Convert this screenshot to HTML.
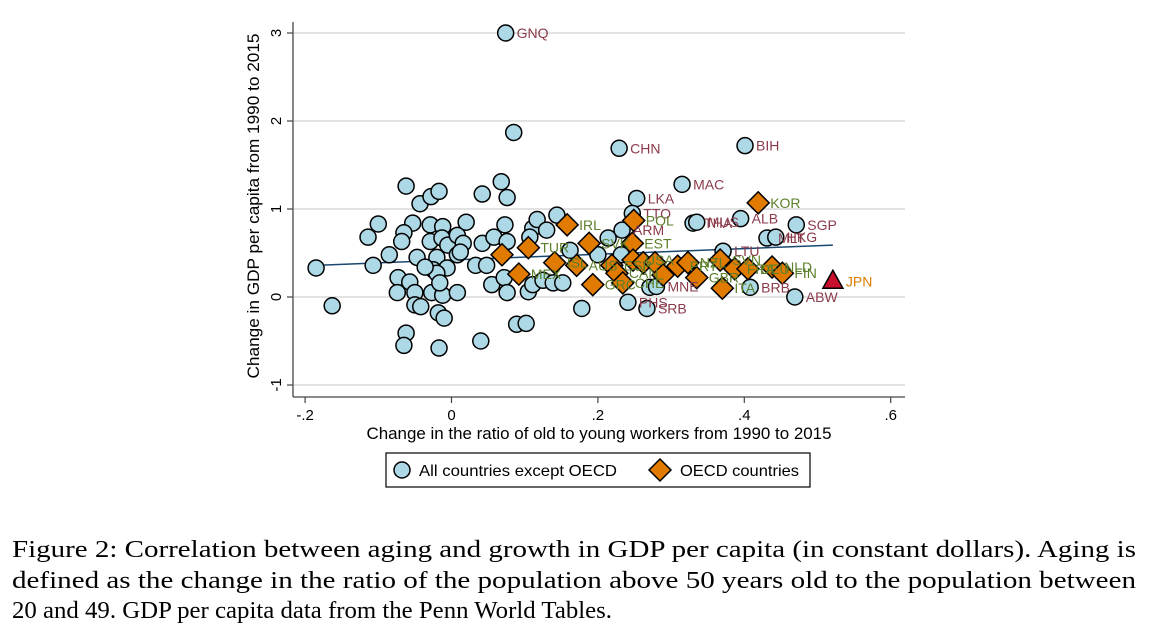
<!DOCTYPE html>
<html><head><meta charset="utf-8"><style>
html,body{margin:0;padding:0;background:#fff;width:1150px;height:632px;overflow:hidden}
svg{display:block}
</style></head><body>
<svg id="fig" width="1150" height="632" viewBox="0 0 1150 632" xmlns="http://www.w3.org/2000/svg" font-family="'Liberation Sans', 'DejaVu Sans', sans-serif">
<g id="grid"></g>
<g id="axes"></g>
<g id="fitline"></g>
<g id="circles"></g>
<g id="diamonds"></g>
<g id="labels"></g>
<text transform="translate(259,206) rotate(-90)" text-anchor="middle" font-size="16.5" textLength="345" lengthAdjust="spacingAndGlyphs">Change in GDP per capita from 1990 to 2015</text>
<text x="599" y="439" text-anchor="middle" font-size="16.5" textLength="465" lengthAdjust="spacingAndGlyphs">Change in the ratio of old to young workers from 1990 to 2015</text>
<g>
<rect x="386" y="453" width="424" height="34" fill="#fff" stroke="#000" stroke-width="1.2"/>
<circle cx="402" cy="470" r="8" fill="#add8e6" stroke="#000" stroke-width="1.5"/>
<text x="419" y="476" font-size="16" textLength="198" lengthAdjust="spacingAndGlyphs">All countries except OECD</text>
<polygon points="660,459 671,470 660,481 649,470" fill="#e07b00" stroke="#000" stroke-width="1.5"/>
<text x="680" y="476" font-size="16" textLength="119" lengthAdjust="spacingAndGlyphs">OECD countries</text>
</g>
<g font-family="'Liberation Serif', 'DejaVu Serif', serif" font-size="24.5">
<text x="12" y="557" textLength="1124" lengthAdjust="spacingAndGlyphs">Figure 2: Correlation between aging and growth in GDP per capita (in constant dollars). Aging is</text>
<text x="12" y="588" textLength="1124" lengthAdjust="spacingAndGlyphs">defined as the change in the ratio of the population above 50 years old to the population between</text>
<text x="12" y="618" textLength="600" lengthAdjust="spacingAndGlyphs">20 and 49. GDP per capita data from the Penn World Tables.</text>
</g>
</svg>
<script>
const xTicks = [-0.2, 0, 0.2, 0.4, 0.6];
const xTickLabels = ["-.2", "0", ".2", ".4", ".6"];
const yTicks = [-1, 0, 1, 2, 3];
const yTickLabels = ["-1", "0", "1", "2", "3"];
const circleX = [-0.185,-0.163,-0.114,-0.100,-0.107,-0.085,-0.062,-0.043,-0.028,-0.017,-0.053,-0.065,-0.068,-0.047,-0.073,-0.074,-0.057,-0.050,-0.050,-0.042,-0.027,-0.012,0.008,-0.018,-0.010,-0.062,-0.065,-0.017,0.040,0.089,0.102,-0.029,-0.012,-0.029,-0.013,-0.005,0.008,0.016,0.020,0.008,0.012,-0.020,-0.025,-0.006,-0.020,-0.036,-0.016,0.042,0.042,0.068,0.076,0.073,0.058,0.076,0.033,0.048,0.055,0.072,0.076,0.105,0.111,0.111,0.117,0.130,0.107,0.144,0.125,0.139,0.074,0.085,0.229,0.401,0.315,0.253,0.247,0.330,0.335,0.395,0.471,0.431,0.443,0.214,0.233,0.371,0.152,0.271,0.408,0.469,0.241,0.267,0.178,0.200,0.162,0.232,0.280];
const circleY = [0.33,-0.10,0.68,0.83,0.36,0.48,1.26,1.06,1.14,1.20,0.84,0.73,0.63,0.45,0.22,0.05,0.17,0.05,-0.09,-0.11,0.05,0.02,0.05,-0.18,-0.24,-0.41,-0.55,-0.58,-0.50,-0.31,-0.30,0.82,0.80,0.63,0.67,0.59,0.70,0.61,0.85,0.48,0.51,0.45,0.31,0.33,0.27,0.34,0.16,0.61,1.17,1.31,1.13,0.82,0.68,0.63,0.36,0.36,0.14,0.22,0.05,0.06,0.14,0.78,0.88,0.76,0.68,0.93,0.19,0.16,3.00,1.87,1.69,1.72,1.28,1.12,0.95,0.84,0.85,0.89,0.82,0.67,0.68,0.67,0.76,0.52,0.16,0.11,0.11,0.00,-0.06,-0.13,-0.13,0.48,0.53,0.48,0.12];
const circleLab = ["","","","","","","","","","","","","","","","","","","","","","","","","","","","","","","","","","","","","","","","","","","","","","","","","","","","","","","","","","","","","","","","","","","","","GNQ","","CHN","BIH","MAC","LKA","TTO","THA","MUS","ALB","SGP","MLT","HKG","","ARM","LTU","","","BRB","ABW","PHS","SRB","","","","","MNE"];
const diaX = [0.419,0.158,0.249,0.247,0.188,0.105,0.069,0.141,0.171,0.219,0.248,0.262,0.278,0.309,0.323,0.367,0.387,0.405,0.438,0.452,0.092,0.226,0.193,0.234,0.289,0.335,0.370];
const diaY = [1.07,0.82,0.87,0.61,0.61,0.56,0.48,0.39,0.36,0.36,0.42,0.39,0.39,0.35,0.39,0.42,0.32,0.32,0.34,0.27,0.26,0.27,0.14,0.16,0.25,0.22,0.10];
const diaLab = ["KOR","IRL","POL","EST","SVK","TUR","","ISL","AUS","ESP","USA","","","PRT","NZL","SVN","FRA","DEU","NLD","FIN","MEX","CAN","GRC","CHE","","GBR","ITA"];
const triX = [0.521];
const triY = [0.19];
const triLab = ["JPN"];
const fitX = [-0.185, 0.521];
const fitY = [0.36, 0.59];

const NS = "http://www.w3.org/2000/svg";
const X0 = 451.5, XS = 732, Y0 = 297, YS = 88;
const sx = v => X0 + v * XS;
const sy = v => Y0 - v * YS;
function mk(tag, attrs, parent, txt) {
  const e = document.createElementNS(NS, tag);
  for (const k in attrs) e.setAttribute(k, attrs[k]);
  if (txt !== undefined) e.textContent = txt;
  parent.appendChild(e);
  return e;
}
const grid = document.getElementById('grid'), axes = document.getElementById('axes');
yTicks.forEach((t, i) => {
  const g = mk('line', {x1: 294, x2: 905, y1: sy(t), y2: sy(t), stroke: '#d0d0d0', 'stroke-width': 1.3}, grid);
  
  
  const tk = mk('line', {x1: 287, x2: 293, y1: sy(t), y2: sy(t), stroke: '#444', 'stroke-width': 1.2}, axes);
  
  
  const lb = mk('text', {transform: `translate(281,${sy(t)}) rotate(-90)`, 'text-anchor': 'middle', 'font-size': 15}, axes, yTickLabels[i]);
  
  
});
xTicks.forEach((t, i) => {
  const tk = mk('line', {x1: sx(t), x2: sx(t), y1: 397, y2: 403, stroke: '#444', 'stroke-width': 1.2}, axes);
  
  
  const lb = mk('text', {x: sx(t), y: 420, 'text-anchor': 'middle', 'font-size': 15}, axes, xTickLabels[i]);
  
  
});
const ya = mk('line', {x1: 293, x2: 293, y1: 22, y2: 397, stroke: '#444', 'stroke-width': 1.3}, axes);


const xa = mk('line', {x1: 293, x2: 905, y1: 397, y2: 397, stroke: '#444', 'stroke-width': 1.3}, axes);



const fl = mk('line', {x1: sx(fitX[0]), y1: sy(fitY[0]), x2: sx(fitX[1]), y2: sy(fitY[1]), stroke: '#1a476f', 'stroke-width': 1.5}, document.getElementById('fitline'));



const cg = document.getElementById('circles'), dg = document.getElementById('diamonds'), lg = document.getElementById('labels');
circleX.forEach((v, i) => {
  const c = mk('circle', {cx: sx(v), cy: sy(circleY[i]), r: 8, fill: '#add8e6', stroke: '#000', 'stroke-width': 1.5}, cg);
  
  
  if (circleLab[i]) {
    const t = mk('text', {x: sx(v) + 11, y: sy(circleY[i]) + 5, 'font-size': 14, fill: '#8b3a4a'}, lg, circleLab[i]);
    
    
  }
});
diaX.forEach((v, i) => {
  const x = sx(v), y = sy(diaY[i]);
  const d = mk('polygon', {points: `${x},${y-11} ${x+11},${y} ${x},${y+11} ${x-11},${y}`, fill: '#e07b00', stroke: '#000', 'stroke-width': 1.5}, dg);
  
  
  if (diaLab[i]) {
    const t = mk('text', {x: x + 12, y: y + 5, 'font-size': 14, fill: '#5b7f2a'}, lg, diaLab[i]);
    
    
  }
});
triX.forEach((v, i) => {
  const x = sx(v), y = sy(triY[i]);
  const p = mk('polygon', {points: `${x},${y-10} ${x+10},${y+8} ${x-10},${y+8}`, fill: '#c8102e', stroke: '#000', 'stroke-width': 1.5}, dg);
  
  
  const t = mk('text', {x: x + 13, y: y + 6, 'font-size': 14, fill: '#e07b00'}, lg, triLab[i]);
  
  
});
</script>
</body></html>
